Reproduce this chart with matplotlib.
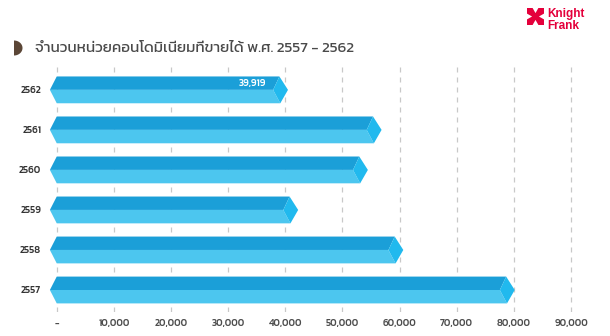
import matplotlib
matplotlib.use("Agg")
import matplotlib.pyplot as plt
import numpy as np
from matplotlib.patches import Polygon
from matplotlib.ticker import FuncFormatter

# data
years = ["2557", "2558", "2559", "2560", "2561", "2562"]
units_sold = [79600, 60100, 41700, 53900, 56300, 39919]
shown_labels = {"2562": "39,919"}
title = "จำนวนหน่วยคอนโดมิเนียมที่ขายได้ พ.ศ. 2557 - 2562"

dark = "#1b9fd8"
light = "#4cc6ef"
face = "#21b9ee"
thai_font = ["Kanit", "DejaVu Sans"]

fig = plt.figure(figsize=(6.1, 3.36), dpi=100)
ax = fig.add_axes([0.0743, 0.0714, 0.8805, 0.735])

h = 0.335  # half bar height
for i, (yr, v) in enumerate(zip(years, units_sold)):
    top, mid, bot = i + h, i, i - h
    # upper (dark) half with left point
    ax.add_patch(Polygon([(-1200, mid), (0, top), (v - 950, top), (v - 2050, mid)],
                         closed=True, color=dark, lw=0))
    # lower (light) half
    ax.add_patch(Polygon([(-1200, mid), (0, bot), (v - 800, bot), (v - 2050, mid)],
                         closed=True, color=light, lw=0))
    # end face
    ax.add_patch(Polygon([(v - 950, top), (v + 550, mid), (v - 800, bot), (v - 2050, mid)],
                         closed=True, color=face, lw=0))
    if yr in shown_labels:
        ax.text(v - 3300, i + 0.16, shown_labels[yr], color="white", fontsize=7,
                fontweight="medium", ha="right", va="center", family=thai_font)

ax.set_xlim(-2000, 92000)
ax.set_ylim(-0.55, 5.62)
ax.set_xticks(range(0, 90001, 10000))
ax.xaxis.set_major_formatter(FuncFormatter(lambda x, p: "-" if x == 0 else "{:,}".format(int(x))))
ax.set_yticks(range(len(years)))
ax.set_yticklabels(years)
ax.tick_params(length=0)
ax.tick_params(axis="x", pad=5, labelsize=7, labelcolor="#4d4d4d")
ax.tick_params(axis="y", pad=3, labelsize=7, labelcolor="#333333")
for lab in ax.get_xticklabels() + ax.get_yticklabels():
    lab.set_family(thai_font)
    lab.set_fontweight("medium")
ax.grid(axis="x", color="#c8c8c8", linestyle=(0, (4, 4)), linewidth=0.9)
ax.set_axisbelow(True)
for s in ax.spines.values():
    s.set_visible(False)

# overlay in pixel coordinates for title marker and logo
ov = fig.add_axes([0, 0, 1, 1], zorder=-1)
ov.set_xlim(0, 610)
ov.set_ylim(336, 0)
ov.axis("off")

# brown half-disc marker (flat side on the left)
a = np.linspace(-np.pi / 2, np.pi / 2, 40)
pts = [(14 + 8.5 * np.cos(t), 48 + 7.5 * np.sin(t)) for t in a]
ov.add_patch(Polygon(pts, closed=True, color="#5b4636", lw=0))
ov.text(35, 48, title, fontsize=11, color="#4a4a4a", va="center", ha="left", family=thai_font)

# Knight Frank logo
red = "#e4003b"
x0, y0, s = 527, 8, 17
ov.add_patch(Polygon([(x0, y0), (x0 + s, y0), (x0 + s, y0 + s), (x0, y0 + s)], color=red, lw=0))
c = s / 2
for tri in [
    [(x0 + 0.33 * s, y0), (x0 + 0.67 * s, y0), (x0 + c, y0 + 0.3 * s)],
    [(x0 + 0.33 * s, y0 + s), (x0 + 0.67 * s, y0 + s), (x0 + c, y0 + 0.7 * s)],
    [(x0, y0 + 0.33 * s), (x0, y0 + 0.67 * s), (x0 + 0.3 * s, y0 + c)],
    [(x0 + s, y0 + 0.33 * s), (x0 + s, y0 + 0.67 * s), (x0 + 0.7 * s, y0 + c)],
]:
    ov.add_patch(Polygon(tri, color="white", lw=0))
ov.text(547, 14.5, "Knight", color=red, fontsize=8.5, fontweight="bold", va="center",
        ha="left", family="Liberation Sans")
ov.text(547, 26, "Frank", color=red, fontsize=8.5, fontweight="bold", va="center",
        ha="left", family="Liberation Sans")

fig.savefig("out.png", dpi=100)
